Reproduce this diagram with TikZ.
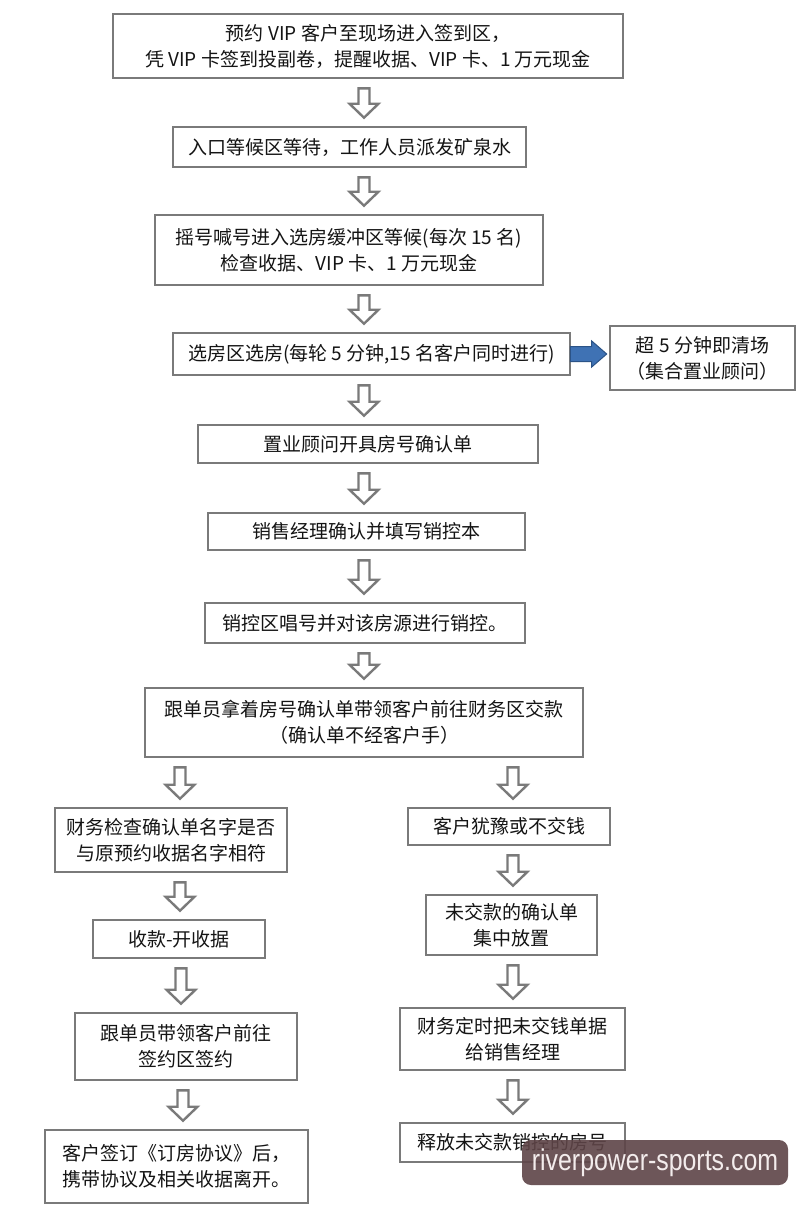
\documentclass[tikz,border=0pt]{standalone}
\usepackage{fontspec}
\setmainfont{Noto Sans CJK SC}
\newfontfamily\wmfont{Liberation Sans}
\usetikzlibrary{calc}
\definecolor{boxgray}{HTML}{7A7A7A}
\definecolor{bluefill}{HTML}{3F72B4}
\definecolor{blueedge}{HTML}{2B5387}
\definecolor{wmbg}{HTML}{5E4447}
\definecolor{wmtext}{HTML}{F3ECEC}
\tikzset{
  box/.style={draw=boxgray, line width=2.6pt, fill=white, align=center,
    font=\fontsize{19}{26}\selectfont, inner sep=2pt, text=black!92},
  harrow/.style={draw=boxgray, line width=2.4pt, fill=white, line join=miter},
  barrow/.style={draw=blueedge, line width=1pt, fill=bluefill, line join=miter},
}
% hollow down arrow between two named nodes, at absolute x (in pt)
\newcommand\harr[3]{%
  \draw[harrow] let \p1=(#1.south), \p2=(#2.north) in
   ({#3pt-5.5pt},{\y1-9pt}) -- ({#3pt+5.5pt},{\y1-9pt})
   -- ({#3pt+5.5pt},{\y2+22pt}) -- ({#3pt+14.5pt},{\y2+22pt})
   -- ({#3pt},{\y2+8pt}) -- ({#3pt-14.5pt},{\y2+22pt})
   -- ({#3pt-5.5pt},{\y2+22pt}) -- cycle;}
\begin{document}
\begin{tikzpicture}[x=1pt,y=-1pt]
\useasboundingbox[fill=white] (0,0) rectangle (810,1208);

% main column
\node[box, minimum width=510pt, minimum height=64pt] (b1) at (368,46)
  {预约 VIP 客户至现场进入签到区，\\凭 VIP 卡签到投副卷，提醒收据、VIP 卡、1 万元现金};
\node[box, minimum width=353pt, minimum height=40pt] (b2) at (349.5,147)
  {入口等候区等待，工作人员派发矿泉水};
\node[box, minimum width=388pt, minimum height=70pt] (b3) at (349,250)
  {摇号喊号进入选房缓冲区等候(每次 15 名)\\检查收据、VIP 卡、1 万元现金};
\node[box, minimum width=397pt, minimum height=42pt] (b4) at (371.5,354)
  {选房区选房(每轮 5 分钟,15 名客户同时进行)};
\node[box, minimum width=185pt, minimum height=64pt] (b5) at (702.5,358)
  {超 5 分钟即清场\\（集合置业顾问）};
\node[box, minimum width=340pt, minimum height=38pt] (b6) at (368,444)
  {置业顾问开具房号确认单};
\node[box, minimum width=317pt, minimum height=37pt] (b7) at (366.5,531.5)
  {销售经理确认并填写销控本};
\node[box, minimum width=320pt, minimum height=40pt] (b8) at (365,623)
  {销控区唱号并对该房源进行销控。};
\node[box, minimum width=438pt, minimum height=69pt] (b9) at (364,722.5)
  {跟单员拿着房号确认单带领客户前往财务区交款\\（确认单不经客户手）};

% left column
\node[box, minimum width=232pt, minimum height=64pt] (l1) at (171,840)
  {财务检查确认单名字是否\\与原预约收据名字相符};
\node[box, minimum width=172pt, minimum height=38pt] (l2) at (179,939)
  {收款-开收据};
\node[box, minimum width=222pt, minimum height=67pt] (l3) at (186,1046.5)
  {跟单员带领客户前往\\签约区签约};
\node[box, minimum width=263pt, minimum height=73pt] (l4) at (176.5,1166.5)
  {客户签订《订房协议》后，\\携带协议及相关收据离开。};

% right column
\node[box, minimum width=202pt, minimum height=37pt] (r1) at (509,826.5)
  {客户犹豫或不交钱};
\node[box, minimum width=171pt, minimum height=60pt] (r2) at (511.5,925)
  {未交款的确认单\\集中放置};
\node[box, minimum width=225pt, minimum height=62pt] (r3) at (512.5,1039)
  {财务定时把未交钱单据\\给销售经理};
\node[box, minimum width=225pt, minimum height=39pt] (r4) at (512.5,1142.5)
  {释放未交款销控的房号};

% hollow arrows
\harr{b1}{b2}{364}
\harr{b2}{b3}{364}
\harr{b3}{b4}{364}
\harr{b4}{b6}{364}
\harr{b6}{b7}{364}
\harr{b7}{b8}{364}
\harr{b8}{b9}{364}
\harr{b9}{l1}{180}
\harr{l1}{l2}{180}
\harr{l2}{l3}{181}
\harr{l3}{l4}{183}
\harr{b9}{r1}{513}
\harr{r1}{r2}{513}
\harr{r2}{r3}{513}
\harr{r3}{r4}{513}

% blue arrow
\draw[barrow] let \p1=(b4.east), \p2=(b5.west) in
  ({\x1-1pt},{\y1+7.5pt}) -- ({\x2-17pt},{\y1+7.5pt}) -- ({\x2-17pt},{\y1+13pt})
  -- ({\x2-2pt},{\y1}) -- ({\x2-17pt},{\y1-13pt}) -- ({\x2-17pt},{\y1-7.5pt})
  -- ({\x1-1pt},{\y1-7.5pt}) -- cycle;

% watermark
\node[fill=wmbg, fill opacity=0.9, text opacity=1, rounded corners=9pt,
  minimum width=266pt, minimum height=45pt, inner sep=0pt, text=wmtext,
  font=\wmfont\fontsize{30}{30}\selectfont] (wm) at (655,1162.5)
  {\scalebox{0.83}[1]{riverpower-sports.com}};
\end{tikzpicture}
\end{document}
